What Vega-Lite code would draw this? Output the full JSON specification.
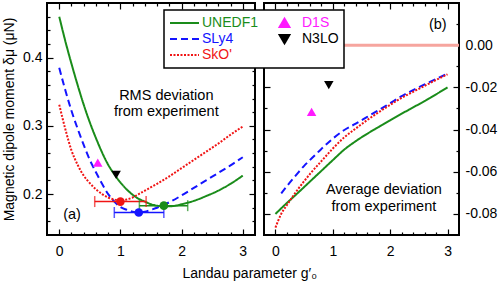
{
  "$schema": "https://vega.github.io/schema/vega-lite/v6.json",
  "background": "white",
  "padding": {"left": 1, "top": 1, "right": 0, "bottom": 0},
  "title": {"text": "Landau parameter g′₀", "orient": "bottom", "anchor": "middle", "font": "Liberation Sans", "fontSize": 14, "fontWeight": "normal", "color": "black", "offset": 5},
  "spacing": 4,
  "datasets": {
    "rms": [
      {"series": "UNEDF1", "g": 0, "v": 0.460}, {"series": "UNEDF1", "g": 0.1, "v": 0.424}, {"series": "UNEDF1", "g": 0.2, "v": 0.391},
      {"series": "UNEDF1", "g": 0.3, "v": 0.360}, {"series": "UNEDF1", "g": 0.4, "v": 0.331}, {"series": "UNEDF1", "g": 0.5, "v": 0.305},
      {"series": "UNEDF1", "g": 0.6, "v": 0.282}, {"series": "UNEDF1", "g": 0.7, "v": 0.261}, {"series": "UNEDF1", "g": 0.8, "v": 0.243},
      {"series": "UNEDF1", "g": 0.9, "v": 0.229}, {"series": "UNEDF1", "g": 1.0, "v": 0.217}, {"series": "UNEDF1", "g": 1.1, "v": 0.207},
      {"series": "UNEDF1", "g": 1.2, "v": 0.199}, {"series": "UNEDF1", "g": 1.3, "v": 0.193}, {"series": "UNEDF1", "g": 1.4, "v": 0.189},
      {"series": "UNEDF1", "g": 1.5, "v": 0.185}, {"series": "UNEDF1", "g": 1.6, "v": 0.183}, {"series": "UNEDF1", "g": 1.7, "v": 0.182},
      {"series": "UNEDF1", "g": 1.8, "v": 0.182}, {"series": "UNEDF1", "g": 1.9, "v": 0.183}, {"series": "UNEDF1", "g": 2.0, "v": 0.185},
      {"series": "UNEDF1", "g": 2.2, "v": 0.190}, {"series": "UNEDF1", "g": 2.4, "v": 0.197}, {"series": "UNEDF1", "g": 2.6, "v": 0.205},
      {"series": "UNEDF1", "g": 2.8, "v": 0.215}, {"series": "UNEDF1", "g": 3.0, "v": 0.227},
      {"series": "SLy4", "g": 0, "v": 0.385}, {"series": "SLy4", "g": 0.1, "v": 0.352}, {"series": "SLy4", "g": 0.2, "v": 0.322},
      {"series": "SLy4", "g": 0.3, "v": 0.296}, {"series": "SLy4", "g": 0.4, "v": 0.272}, {"series": "SLy4", "g": 0.5, "v": 0.250},
      {"series": "SLy4", "g": 0.6, "v": 0.232}, {"series": "SLy4", "g": 0.7, "v": 0.215}, {"series": "SLy4", "g": 0.8, "v": 0.200},
      {"series": "SLy4", "g": 0.9, "v": 0.189}, {"series": "SLy4", "g": 1.0, "v": 0.181}, {"series": "SLy4", "g": 1.1, "v": 0.177},
      {"series": "SLy4", "g": 1.2, "v": 0.174}, {"series": "SLy4", "g": 1.3, "v": 0.173}, {"series": "SLy4", "g": 1.4, "v": 0.174},
      {"series": "SLy4", "g": 1.5, "v": 0.177}, {"series": "SLy4", "g": 1.6, "v": 0.180}, {"series": "SLy4", "g": 1.8, "v": 0.188},
      {"series": "SLy4", "g": 2.0, "v": 0.198}, {"series": "SLy4", "g": 2.2, "v": 0.209}, {"series": "SLy4", "g": 2.4, "v": 0.220},
      {"series": "SLy4", "g": 2.6, "v": 0.231}, {"series": "SLy4", "g": 2.8, "v": 0.242}, {"series": "SLy4", "g": 3.0, "v": 0.254},
      {"series": "SkO'", "g": 0, "v": 0.331}, {"series": "SkO'", "g": 0.1, "v": 0.295}, {"series": "SkO'", "g": 0.2, "v": 0.264},
      {"series": "SkO'", "g": 0.3, "v": 0.243}, {"series": "SkO'", "g": 0.4, "v": 0.227}, {"series": "SkO'", "g": 0.5, "v": 0.216},
      {"series": "SkO'", "g": 0.6, "v": 0.207}, {"series": "SkO'", "g": 0.7, "v": 0.200}, {"series": "SkO'", "g": 0.8, "v": 0.195},
      {"series": "SkO'", "g": 0.9, "v": 0.192}, {"series": "SkO'", "g": 1.0, "v": 0.191}, {"series": "SkO'", "g": 1.1, "v": 0.192},
      {"series": "SkO'", "g": 1.2, "v": 0.195}, {"series": "SkO'", "g": 1.3, "v": 0.200}, {"series": "SkO'", "g": 1.4, "v": 0.205},
      {"series": "SkO'", "g": 1.5, "v": 0.210}, {"series": "SkO'", "g": 1.6, "v": 0.215}, {"series": "SkO'", "g": 1.8, "v": 0.226},
      {"series": "SkO'", "g": 2.0, "v": 0.238}, {"series": "SkO'", "g": 2.2, "v": 0.250}, {"series": "SkO'", "g": 2.4, "v": 0.262},
      {"series": "SkO'", "g": 2.6, "v": 0.274}, {"series": "SkO'", "g": 2.8, "v": 0.287}, {"series": "SkO'", "g": 3.0, "v": 0.299}
    ],
    "avg": [
      {"series": "UNEDF1", "g": 0, "v": -0.0800}, {"series": "UNEDF1", "g": 0.2, "v": -0.0748}, {"series": "UNEDF1", "g": 0.4, "v": -0.0698},
      {"series": "UNEDF1", "g": 0.6, "v": -0.0647}, {"series": "UNEDF1", "g": 0.8, "v": -0.0596}, {"series": "UNEDF1", "g": 1.0, "v": -0.0545},
      {"series": "UNEDF1", "g": 1.2, "v": -0.0495}, {"series": "UNEDF1", "g": 1.4, "v": -0.0455}, {"series": "UNEDF1", "g": 1.6, "v": -0.0420},
      {"series": "UNEDF1", "g": 1.8, "v": -0.0388}, {"series": "UNEDF1", "g": 2.0, "v": -0.0356}, {"series": "UNEDF1", "g": 2.2, "v": -0.0325},
      {"series": "UNEDF1", "g": 2.4, "v": -0.0295}, {"series": "UNEDF1", "g": 2.6, "v": -0.0265}, {"series": "UNEDF1", "g": 2.8, "v": -0.0233},
      {"series": "UNEDF1", "g": 3.0, "v": -0.0200},
      {"series": "SLy4", "g": 0.1, "v": -0.0703}, {"series": "SLy4", "g": 0.2, "v": -0.0668}, {"series": "SLy4", "g": 0.3, "v": -0.0635},
      {"series": "SLy4", "g": 0.4, "v": -0.0603}, {"series": "SLy4", "g": 0.5, "v": -0.0572}, {"series": "SLy4", "g": 0.6, "v": -0.0545},
      {"series": "SLy4", "g": 0.8, "v": -0.0492}, {"series": "SLy4", "g": 1.0, "v": -0.0443}, {"series": "SLy4", "g": 1.2, "v": -0.0402},
      {"series": "SLy4", "g": 1.4, "v": -0.0372}, {"series": "SLy4", "g": 1.6, "v": -0.0340}, {"series": "SLy4", "g": 1.8, "v": -0.0308},
      {"series": "SLy4", "g": 2.0, "v": -0.0275}, {"series": "SLy4", "g": 2.2, "v": -0.0242}, {"series": "SLy4", "g": 2.4, "v": -0.0213},
      {"series": "SLy4", "g": 2.6, "v": -0.0186}, {"series": "SLy4", "g": 2.8, "v": -0.0160}, {"series": "SLy4", "g": 3.0, "v": -0.0135},
      {"series": "SkO'", "g": 0, "v": -0.0865}, {"series": "SkO'", "g": 0.1, "v": -0.0800}, {"series": "SkO'", "g": 0.2, "v": -0.0758},
      {"series": "SkO'", "g": 0.3, "v": -0.0718}, {"series": "SkO'", "g": 0.4, "v": -0.0680}, {"series": "SkO'", "g": 0.5, "v": -0.0645},
      {"series": "SkO'", "g": 0.6, "v": -0.0611}, {"series": "SkO'", "g": 0.8, "v": -0.0550}, {"series": "SkO'", "g": 1.0, "v": -0.0490},
      {"series": "SkO'", "g": 1.2, "v": -0.0437}, {"series": "SkO'", "g": 1.4, "v": -0.0395}, {"series": "SkO'", "g": 1.6, "v": -0.0355},
      {"series": "SkO'", "g": 1.8, "v": -0.0318}, {"series": "SkO'", "g": 2.0, "v": -0.0283}, {"series": "SkO'", "g": 2.2, "v": -0.0250},
      {"series": "SkO'", "g": 2.4, "v": -0.0221}, {"series": "SkO'", "g": 2.6, "v": -0.0193}, {"series": "SkO'", "g": 2.8, "v": -0.0165},
      {"series": "SkO'", "g": 3.0, "v": -0.0138}
    ],
    "fits": [
      {"series": "SkO'", "g": 1.0, "v": 0.189, "lo": 0.58, "hi": 1.42},
      {"series": "SLy4", "g": 1.30, "v": 0.173, "lo": 0.90, "hi": 1.71},
      {"series": "UNEDF1", "g": 1.71, "v": 0.183, "lo": 1.31, "hi": 2.10}
    ],
    "refs": [
      {"series": "D1S", "g": 0.63, "rms": 0.246, "avg": -0.0316},
      {"series": "N3LO", "g": 0.93, "rms": 0.228, "avg": -0.0189}
    ]
  },
  "hconcat": [
    {
      "width": 208,
      "height": 232,
      "layer": [
        {
          "data": {"name": "rms"},
          "mark": {"type": "line", "strokeWidth": 2, "interpolate": "monotone"},
          "encoding": {
            "x": {"field": "g", "type": "quantitative", "scale": {"domain": [-0.2, 3.2], "nice": false, "zero": false},
              "axis": {"orient": "bottom", "title": null, "values": [0, 0.2, 0.4, 0.6, 0.8, 1, 1.2, 1.4, 1.6, 1.8, 2, 2.2, 2.4, 2.6, 2.8, 3],
                "labelExpr": "abs(datum.value - round(datum.value)) < 0.001 ? '' + round(datum.value) : ''",
                "tickSize": {"condition": {"test": "abs(datum.value - round(datum.value)) < 0.001", "value": -6}, "value": -3},
                "labelPadding": 15}},
            "y": {"field": "v", "type": "quantitative", "scale": {"domain": [0.14, 0.48], "nice": false, "zero": false},
              "axis": {"orient": "left", "title": "Magnetic dipole moment δμ (μN)", "titlePadding": 6,
                "values": [0.16, 0.18, 0.2, 0.22, 0.24, 0.26, 0.28, 0.3, 0.32, 0.34, 0.36, 0.38, 0.4, 0.42, 0.44, 0.46],
                "labelExpr": "abs(datum.value*10 - round(datum.value*10)) < 0.001 ? format(datum.value, '.1f') : ''",
                "tickSize": {"condition": {"test": "abs(datum.value*10 - round(datum.value*10)) < 0.001", "value": -6}, "value": -3},
                "labelPadding": 11}},
            "color": {"field": "series", "type": "nominal",
              "scale": {"domain": ["UNEDF1", "SLy4", "SkO'", "D1S", "N3LO"], "range": ["#1a8c1a", "#1414ff", "#f01414", "#ff1aff", "#000000"]},
              "legend": {"orient": "none", "legendX": 117, "legendY": 7, "columns": 2, "title": null,
                "symbolSize": 841, "symbolType": "stroke", "symbolStrokeWidth": 2, "labelOffset": 2, "columnPadding": 10, "rowPadding": 0, "clipHeight": 16,
                "labelFont": "Liberation Sans", "labelFontSize": 14, "padding": 5,
                "fillColor": "white", "strokeColor": "black",
                "encode": {
                  "legend": {"update": {"strokeWidth": {"value": 1.5}}},
                  "symbols": {"update": {
                    "shape": {"signal": "datum.value === 'D1S' ? 'M0,-0.3L0.34,0.28L-0.34,0.28Z' : datum.value === 'N3LO' ? 'M0,0.3L0.34,-0.28L-0.34,-0.28Z' : 'stroke'"},
                    "size": {"value": 841},
                    "strokeWidth": {"value": 2},
                    "fill": {"signal": "datum.value === 'D1S' || datum.value === 'N3LO' ? scale('color', datum.value) : 'transparent'"},
                    "stroke": {"signal": "datum.value === 'D1S' || datum.value === 'N3LO' ? 'transparent' : scale('color', datum.value)"},
                    "strokeDash": {"signal": "datum.value === 'SLy4' ? [7, 4] : datum.value === 'SkO\\'' ? [2, 1.5] : [1, 0]"},
                    "opacity": {"value": 1}
                  }},
                  "labels": {"update": {"fill": {"signal": "scale('color', datum.value)"}}}
                }}},
            "strokeDash": {"field": "series", "type": "nominal",
              "scale": {"domain": ["UNEDF1", "SLy4", "SkO'"], "range": [[1, 0], [7, 4], [2, 1.5]]}, "legend": null}
          }
        },
        {
          "data": {"name": "fits"},
          "mark": {"type": "rule", "strokeWidth": 1.5},
          "encoding": {
            "x": {"field": "lo", "type": "quantitative",
              "axis": {"orient": "top", "title": null, "labels": false, "values": [0, 0.2, 0.4, 0.6, 0.8, 1, 1.2, 1.4, 1.6, 1.8, 2, 2.2, 2.4, 2.6, 2.8, 3],
                "tickSize": {"condition": {"test": "abs(datum.value - round(datum.value)) < 0.001", "value": -6}, "value": -3}}},
            "x2": {"field": "hi"},
            "y": {"field": "v", "type": "quantitative",
              "axis": {"orient": "right", "title": null, "labels": false,
                "values": [0.16, 0.18, 0.2, 0.22, 0.24, 0.26, 0.28, 0.3, 0.32, 0.34, 0.36, 0.38, 0.4, 0.42, 0.44, 0.46],
                "tickSize": {"condition": {"test": "abs(datum.value*10 - round(datum.value*10)) < 0.001", "value": -6}, "value": -3}}},
            "color": {"field": "series", "type": "nominal", "legend": null}
          }
        },
        {
          "data": {"name": "fits"},
          "mark": {"type": "tick", "orient": "vertical", "size": 11, "thickness": 1.5},
          "encoding": {
            "x": {"field": "lo", "type": "quantitative", "axis": null},
            "y": {"field": "v", "type": "quantitative", "axis": null},
            "color": {"field": "series", "type": "nominal", "legend": null}
          }
        },
        {
          "data": {"name": "fits"},
          "mark": {"type": "tick", "orient": "vertical", "size": 11, "thickness": 1.5},
          "encoding": {
            "x": {"field": "hi", "type": "quantitative", "axis": null},
            "y": {"field": "v", "type": "quantitative", "axis": null},
            "color": {"field": "series", "type": "nominal", "legend": null}
          }
        },
        {
          "data": {"name": "fits"},
          "mark": {"type": "circle", "size": 75, "opacity": 1},
          "encoding": {
            "x": {"field": "g", "type": "quantitative", "axis": null},
            "y": {"field": "v", "type": "quantitative", "axis": null},
            "color": {"field": "series", "type": "nominal", "legend": null}
          }
        },
        {
          "data": {"name": "refs"},
          "mark": {"type": "point", "filled": true, "size": 90, "opacity": 1},
          "encoding": {
            "x": {"field": "g", "type": "quantitative", "axis": null},
            "y": {"field": "rms", "type": "quantitative", "axis": null},
            "color": {"field": "series", "type": "nominal", "legend": null},
            "shape": {"field": "series", "type": "nominal", "scale": {"domain": ["D1S", "N3LO"], "range": ["triangle-up", "triangle-down"]}, "legend": null}
          }
        },
        {
          "data": {"values": [
            {"g": 1.75, "v": 0.343, "label": "RMS deviation"},
            {"g": 1.75, "v": 0.320, "label": "from experiment"},
            {"g": 0.21, "v": 0.170, "label": "(a)"}
          ]},
          "mark": {"type": "text", "font": "Liberation Sans", "fontSize": 14.5, "color": "black", "align": "center", "baseline": "middle"},
          "encoding": {
            "x": {"field": "g", "type": "quantitative", "axis": null},
            "y": {"field": "v", "type": "quantitative", "axis": null},
            "text": {"field": "label"}
          }
        }
      ],
      "resolve": {"axis": {"x": "independent", "y": "independent"}}
    },
    {
      "width": 195,
      "height": 232,
      "layer": [
        {
          "data": {"values": [{"z": 0}]},
          "mark": {"type": "rule", "color": "#f6a59e", "strokeWidth": 3},
          "encoding": {
            "y": {"field": "z", "type": "quantitative", "scale": {"domain": [-0.09, 0.02], "nice": false, "zero": false},
              "axis": {"orient": "right", "title": null,
                "values": [-0.08, -0.07, -0.06, -0.05, -0.04, -0.03, -0.02, -0.01, 0, 0.01],
                "labelExpr": "abs(datum.value*50 - round(datum.value*50)) < 0.001 ? replace(format(round(datum.value*100)/100, '.2f'), '−', '-') : ''",
                "tickSize": {"condition": {"test": "abs(datum.value*50 - round(datum.value*50)) < 0.001", "value": -6}, "value": -3},
                "labelPadding": 12}}
          }
        },
        {
          "data": {"name": "avg"},
          "mark": {"type": "line", "strokeWidth": 2, "interpolate": "monotone"},
          "encoding": {
            "x": {"field": "g", "type": "quantitative", "scale": {"domain": [-0.2, 3.2], "nice": false, "zero": false},
              "axis": {"orient": "bottom", "title": null, "values": [0, 0.2, 0.4, 0.6, 0.8, 1, 1.2, 1.4, 1.6, 1.8, 2, 2.2, 2.4, 2.6, 2.8, 3],
                "labelExpr": "abs(datum.value - round(datum.value)) < 0.001 ? '' + round(datum.value) : ''",
                "tickSize": {"condition": {"test": "abs(datum.value - round(datum.value)) < 0.001", "value": -6}, "value": -3},
                "labelPadding": 15}},
            "y": {"field": "v", "type": "quantitative",
              "axis": {"orient": "left", "title": null, "labels": false,
                "values": [-0.08, -0.07, -0.06, -0.05, -0.04, -0.03, -0.02, -0.01, 0, 0.01],
                "tickSize": {"condition": {"test": "abs(datum.value*50 - round(datum.value*50)) < 0.001", "value": -6}, "value": -3}}},
            "color": {"field": "series", "type": "nominal", "legend": null},
            "strokeDash": {"field": "series", "type": "nominal", "legend": null}
          }
        },
        {
          "data": {"name": "refs"},
          "mark": {"type": "point", "filled": true, "size": 90, "opacity": 1},
          "encoding": {
            "x": {"field": "g", "type": "quantitative",
              "axis": {"orient": "top", "title": null, "labels": false, "values": [0, 0.2, 0.4, 0.6, 0.8, 1, 1.2, 1.4, 1.6, 1.8, 2, 2.2, 2.4, 2.6, 2.8, 3],
                "tickSize": {"condition": {"test": "abs(datum.value - round(datum.value)) < 0.001", "value": -6}, "value": -3}}},
            "y": {"field": "avg", "type": "quantitative", "axis": null},
            "color": {"field": "series", "type": "nominal", "legend": null},
            "shape": {"field": "series", "type": "nominal", "legend": null}
          }
        },
        {
          "data": {"values": [
            {"g": 1.89, "v": -0.0689, "label": "Average deviation"},
            {"g": 1.89, "v": -0.0768, "label": "from experiment"},
            {"g": 2.83, "v": 0.0097, "label": "(b)"}
          ]},
          "mark": {"type": "text", "font": "Liberation Sans", "fontSize": 14.5, "color": "black", "align": "center", "baseline": "middle"},
          "encoding": {
            "x": {"field": "g", "type": "quantitative", "axis": null},
            "y": {"field": "v", "type": "quantitative", "axis": null},
            "text": {"field": "label"}
          }
        }
      ],
      "resolve": {"axis": {"x": "independent", "y": "independent"}}
    }
  ],
  "config": {
    "view": {"stroke": "black", "strokeWidth": 2},
    "axis": {"domain": false, "grid": false, "ticks": true, "tickColor": "black", "tickWidth": 1.2,
      "labelFont": "Liberation Sans", "labelFontSize": 14, "labelColor": "black", "labelOverlap": false, "labelFlush": false,
      "titleFont": "Liberation Sans", "titleFontSize": 14, "titleFontWeight": "normal", "titleColor": "black"}
  }
}
